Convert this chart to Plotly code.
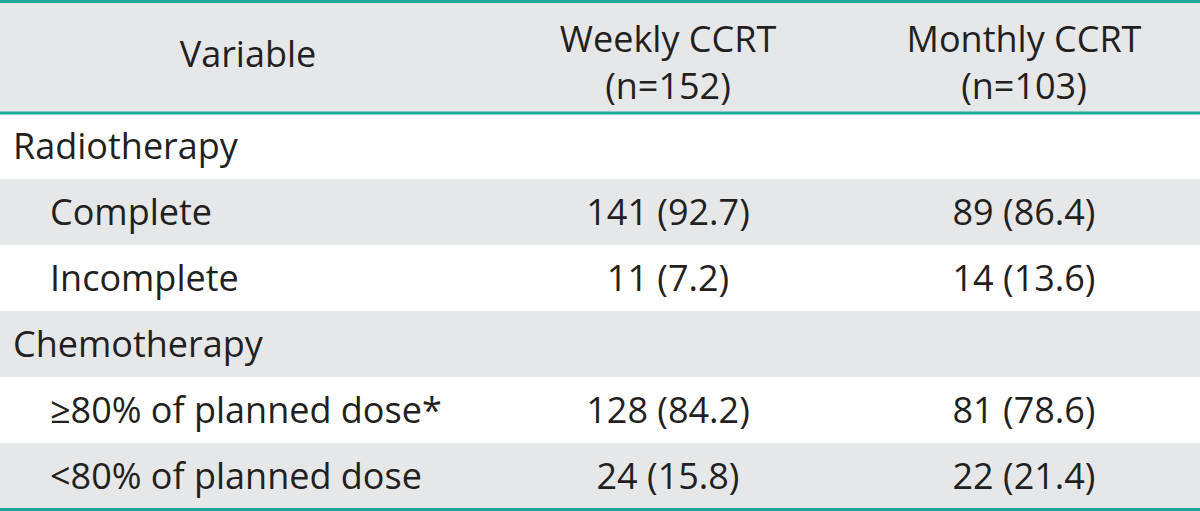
import plotly.graph_objects as go

# ---- data ----
header_labels = ["Variable", "Weekly CCRT<br>(n=152)", "Monthly CCRT<br>(n=103)"]
variables = ["Radiotherapy", "Complete", "Incomplete", "Chemotherapy",
             "≥80% of planned dose*", "&lt;80% of planned dose"]
is_sub = [False, True, True, False, True, True]
weekly = ["", "141 (92.7)", "11 (7.2)", "", "128 (84.2)", "24 (15.8)"]
monthly = ["", "89 (86.4)", "14 (13.6)", "", "81 (78.6)", "22 (21.4)"]

# ---- styling / layout ----
W, H = 1200, 511
HEADER_TOP, HEADER_BOTTOM = 1.5, 113
ROW_H = 66
COL_CENTERS = [248, 668, 1024]
X_GROUP, X_SUB = 13, 50
TEXT_SHIFT = 4
HEADER_SHIFTS = [1, 9, 9]
GRAY = "#e6e7e8"
WHITE = "#ffffff"
TEAL = "#1fa89a"
TEXT = "#231f20"
FONT = dict(family="Open Sans", size=36, color=TEXT)

n = len(variables)
row_centers = [HEADER_BOTTOM + ROW_H * i + ROW_H / 2 for i in range(n)]
text_y = [c + TEXT_SHIFT for c in row_centers]
row_fill = [WHITE if i % 2 == 0 else GRAY for i in range(n)]
header_center = (HEADER_TOP + HEADER_BOTTOM) / 2

fig = go.Figure()

# header background
fig.add_trace(go.Bar(orientation="h", x=[W], y=[header_center], base=0,
                     width=HEADER_BOTTOM - HEADER_TOP, marker=dict(color=GRAY, line=dict(width=0)),
                     hoverinfo="skip", showlegend=False))
# row stripes
fig.add_trace(go.Bar(orientation="h", x=[W] * n, y=row_centers, base=0,
                     width=ROW_H, marker=dict(color=row_fill, line=dict(width=0)),
                     hoverinfo="skip", showlegend=False))

# header text
fig.add_trace(go.Scatter(x=COL_CENTERS, y=[header_center + s for s in HEADER_SHIFTS], mode="text",
                         text=header_labels, textposition="middle center",
                         textfont=FONT, hoverinfo="skip", showlegend=False, cliponaxis=False))
# variable names
fig.add_trace(go.Scatter(x=[X_SUB if s else X_GROUP for s in is_sub], y=text_y,
                         mode="text", text=variables, textposition="middle right",
                         textfont=FONT, hoverinfo="skip", showlegend=False, cliponaxis=False))
# values
fig.add_trace(go.Scatter(x=[COL_CENTERS[1]] * n, y=text_y, mode="text", text=weekly,
                         textposition="middle center", textfont=FONT,
                         hoverinfo="skip", showlegend=False, cliponaxis=False))
fig.add_trace(go.Scatter(x=[COL_CENTERS[2]] * n, y=text_y, mode="text", text=monthly,
                         textposition="middle center", textfont=FONT,
                         hoverinfo="skip", showlegend=False, cliponaxis=False))

# teal rules
for y in [HEADER_TOP, HEADER_BOTTOM, H - 1.5]:
    fig.add_shape(type="line", xref="x", yref="y", x0=0, x1=W, y0=y, y1=y,
                  line=dict(color=TEAL, width=3), layer="above")

fig.update_layout(width=W, height=H,
                  margin=dict(l=0, r=0, t=0, b=0, pad=0, autoexpand=False),
                  paper_bgcolor=WHITE, plot_bgcolor=WHITE, bargap=0,
                  xaxis=dict(range=[0, W], visible=False, fixedrange=True),
                  yaxis=dict(range=[H, 0], visible=False, fixedrange=True))
fig.write_html("out.html", config={"displayModeBar": False},
               post_script="document.body.style.margin='0';document.body.style.overflow='hidden';")
